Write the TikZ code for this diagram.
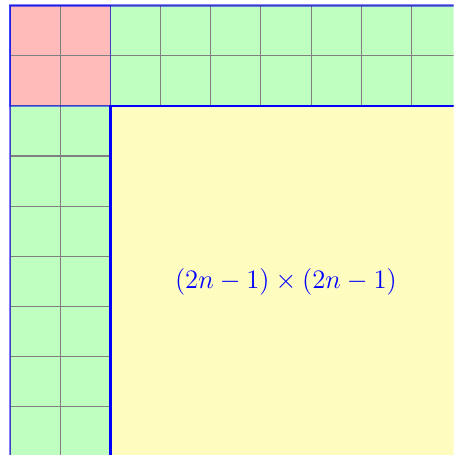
\documentclass[tikz,border=0pt]{standalone}
\usepackage{tikz}
\usetikzlibrary{calc}

\begin{document}
\begin{tikzpicture}[scale=1, >=stealth]
    \useasboundingbox (-0.2,0.11) rectangle (8.84,-8.96);
    \clip (-0.2,0.11) rectangle (8.84,-8.96);

    % Corner block and the two strips
    \fill[red!27] (0,0) rectangle (2,-2);
    \fill[green!25] (2,0) rectangle (9,-2);
    \fill[green!25] (0,-2) rectangle (2,-9);

    % Inner square
    \fill[yellow!25] (2,-2) rectangle (9,-9);

    % Unit cells
    \draw[gray, line width=0.6pt] (0,-2) grid (9,0);
    \draw[gray, line width=0.6pt] (0,-9) grid (2,-2);

    % Outlines
    \draw[very thick, blue, opacity=0.5] (0,0) rectangle (9,-9);
    \draw[thick, blue, opacity=0.5] (0,0) rectangle (2,-2);
    \draw[line width=1.4pt, blue] (2,-2) rectangle (9,-9);

    \node[blue, scale=1.05] (area) at (5.5,-5.5) {\Large $(2n-1)\times(2n-1)$};

\end{tikzpicture}
\end{document}
